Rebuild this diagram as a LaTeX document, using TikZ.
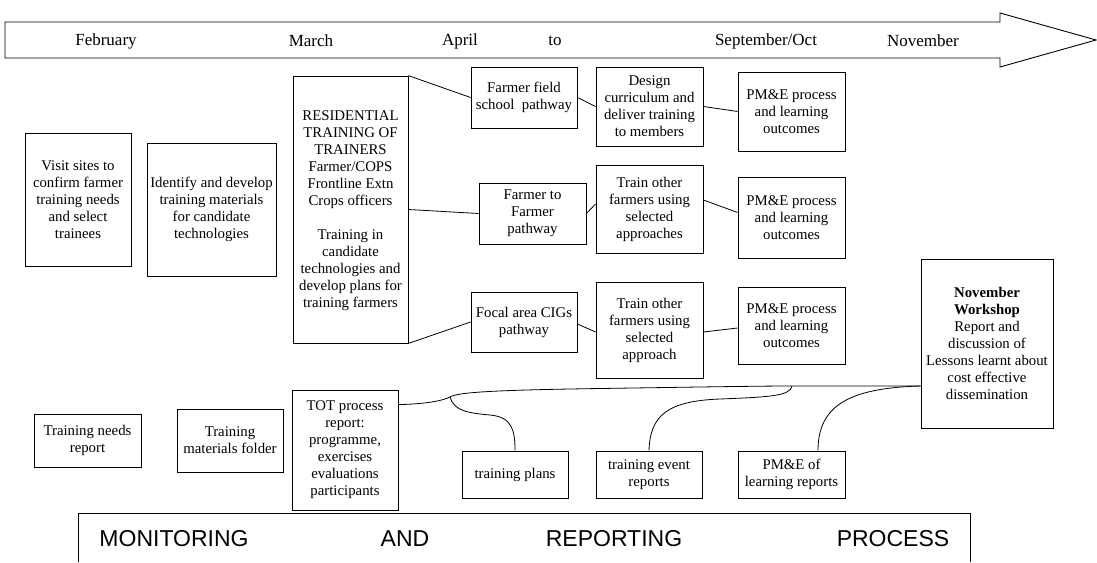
\documentclass[tikz,border=0pt]{standalone}
\usepackage{fontspec}
\setmainfont{Liberation Serif}
\newfontfamily\sansf{Liberation Sans}
\usetikzlibrary{calc}
\newcommand{\boxfont}{\fontsize{14.8}{17}\selectfont}
\newcommand{\timefont}{\fontsize{17}{19}\selectfont}
\newcommand{\bandfont}{\sansf\fontsize{23}{26}\selectfont}
\tikzset{
  box/.style={draw, line width=0.8pt, inner sep=1pt, align=center, font=\boxfont},
  link/.style={line width=0.8pt},
  month/.style={font=\timefont, inner sep=0pt},
  band/.style={font=\bandfont, inner sep=0pt}
}
\begin{document}
\begin{tikzpicture}[x=1pt, y=-1pt]
\useasboundingbox (0,0) rectangle (1097,562);

% timeline arrow
\draw[line width=0.9pt] (5,22) -- (1000,22) -- (1000,13) -- (1096,40)
  -- (1000,67) -- (1000,58) -- (5,58) -- cycle;
\node[month] (feb) at (106,41) {February};
\node[month] (mar) at (311,41) {March};
\node[month] (apr) at (460,41) {April};
\node[month] (to)  at (555,41) {to};
\node[month] (sep) at (766,41) {September/Oct};
\node[month] (nov) at (923,41) {November};

% preparation
\node[box, minimum width=106pt, minimum height=133pt] (visit) at (78,199.5)
  {Visit sites to\\confirm farmer\\training needs\\and select\\trainees};
\node[box, minimum width=129pt, minimum height=133pt] (ident) at (211.5,209.5)
  {Identify and develop\\training materials\\for candidate\\technologies};
\node[box, minimum width=115pt, minimum height=267pt, text depth=-14pt] (resid) at (350.5,209.5)
  {RESIDENTIAL\\TRAINING OF\\TRAINERS\\Farmer/COPS\\Frontline Extn\\Crops officers\\[17pt]Training in\\candidate\\technologies and\\develop plans for\\training farmers};

% pathways
\node[box, minimum width=106pt, minimum height=61pt] (ffs) at (524,97.5)
  {Farmer field\\school\ \ pathway};
\node[box, minimum width=107pt, minimum height=79pt] (design) at (649.5,106.5)
  {Design\\curriculum and\\deliver training\\to members};
\node[box, minimum width=107pt, minimum height=79pt] (pme1) at (791.5,111.5)
  {PM\&E process\\and learning\\outcomes};

\node[box, minimum width=107pt, minimum height=61pt] (f2f) at (532.5,213.5)
  {Farmer to\\Farmer\\pathway};
\node[box, minimum width=107pt, minimum height=88pt] (train2) at (649.5,209)
  {Train other\\farmers using\\selected\\approaches};
\node[box, minimum width=107pt, minimum height=81pt] (pme2) at (791.5,217.5)
  {PM\&E process\\and learning\\outcomes};

\node[box, minimum width=106pt, minimum height=60pt] (focal) at (524,322)
  {Focal area CIGs\\pathway};
\node[box, minimum width=107pt, minimum height=96pt] (train3) at (649.5,330)
  {Train other\\farmers using\\selected\\approach};
\node[box, minimum width=107pt, minimum height=77pt] (pme3) at (791.5,325.5)
  {PM\&E process\\and learning\\outcomes};

\node[box, minimum width=132pt, minimum height=169pt] (workshop) at (987,343.5)
  {\textbf{November}\\\textbf{Workshop}\\Report and\\discussion of\\Lessons learnt about\\cost effective\\dissemination};

% reports
\node[box, minimum width=107pt, minimum height=53pt] (tneeds) at (87.5,440.5)
  {Training needs\\report};
\node[box, minimum width=106pt, minimum height=63pt] (tmat) at (230,440.5)
  {Training\\materials folder};
\node[box, minimum width=106pt, minimum height=120pt] (tot) at (345,450)
  {TOT process\\report:\\programme,\\exercises\\evaluations\\participants};
\node[box, minimum width=106pt, minimum height=47pt] (tplans) at (515,474.5)
  {training plans};
\node[box, minimum width=106pt, minimum height=47pt] (tevent) at (649,474.5)
  {training event\\reports};
\node[box, minimum width=107pt, minimum height=47pt] (tpme) at (791.5,474.5)
  {PM\&E of\\learning reports};

% pathway links
\draw[link] (resid.north east) -- (ffs.west);
\draw[link] (ffs.east) -- (design.west);
\draw[link] (design.east) -- (pme1.west);
\draw[link] (resid.east) -- (f2f.west);
\draw[link] (f2f.east) -- ($(train2.west)+(0,-5)$);
\draw[link] ($(train2.east)+(0,-9)$) -- ($(pme2.west)+(0,-5)$);
\draw[link] (resid.south east) -- (focal.west);
\draw[link] ($(focal.east)+(0,2)$) -- ($(train3.west)+(0,2)$);
\draw[link] ($(train3.east)+(0,2)$) -- ($(pme3.west)+(0,2.5)$);

% reporting links
\coordinate (totout) at ($(tot.north east)+(0,15)$);
\coordinate (split) at (450,397);
\coordinate (merge) at (792,386);
\coordinate (wsin) at ($(workshop.west)+(0,42.5)$);
\draw[link] (totout) .. controls (425,404) and (442,401) .. (split)
  .. controls (457,392) and (500,390) .. (600,388.5)
  .. controls (700,387) and (760,386) .. (merge) -- (wsin);
\draw[link] (split) .. controls (454,411) and (468,413) .. (490,415)
  .. controls (512,417) and (515,430) .. (tplans.north);
\draw[link] (tevent.north) .. controls (650,415) and (668,401) .. (720,399)
  .. controls (770,397) and (790,396) .. (merge);
\draw[link] ($(tpme.north)+(26.5,0)$) .. controls (818,405) and (850,388) .. (wsin);

% monitoring band
\draw[line width=0.8pt] (78,562) -- (78,513) -- (970,513) -- (970,562);
\node[band] (mon) at (174,539) {MONITORING};
\node[band] (and) at (405,539) {AND};
\node[band] (rep) at (614,539) {REPORTING};
\node[band] (pro) at (893,539) {PROCESS};
\end{tikzpicture}
\end{document}
